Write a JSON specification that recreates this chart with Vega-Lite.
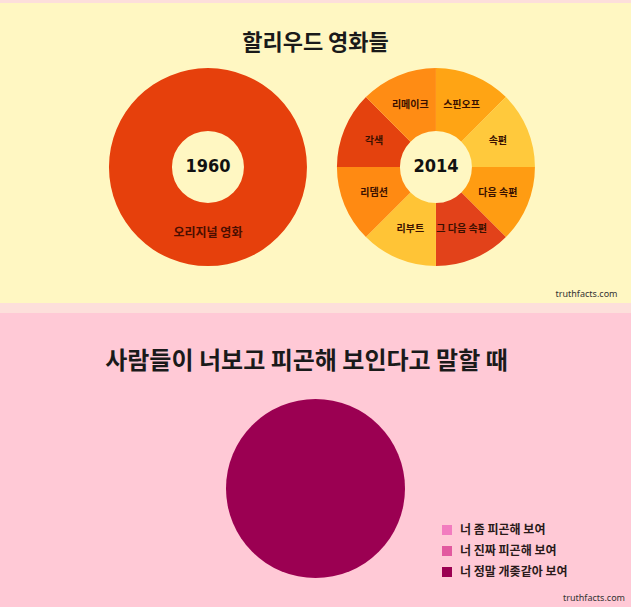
{
  "$schema": "https://vega.github.io/schema/vega-lite/v6.json",
  "padding": {"top": 3, "left": 0, "right": 0, "bottom": 0},
  "background": "#FDDFDB",
  "spacing": 10,
  "title": {
    "text": "truthfacts.com",
    "orient": "bottom",
    "anchor": "end",
    "frame": "group",
    "offset": -13,
    "dx": -6,
    "font": "Noto Sans",
    "fontSize": 9,
    "fontWeight": "normal",
    "color": "#333333"
  },
  "vconcat": [
    {
      "width": 631,
      "height": 300,
      "view": {"fill": "#FFF7C2", "stroke": null},
      "title": {"text": "할리우드 영화들", "offset": -52, "fontSize": 22},
      "data": {
        "values": [
          {"year": "1960", "segment": "오리지널 영화", "k": 1, "n": 1},
          {"year": "2014", "segment": "스핀오프", "k": 1, "n": 1},
          {"year": "2014", "segment": "속편", "k": 2, "n": 1},
          {"year": "2014", "segment": "다음 속편", "k": 3, "n": 1},
          {"year": "2014", "segment": "그 다음 속편", "k": 4, "n": 1},
          {"year": "2014", "segment": "리부트", "k": 5, "n": 1},
          {"year": "2014", "segment": "리뎀션", "k": 6, "n": 1},
          {"year": "2014", "segment": "각색", "k": 7, "n": 1},
          {"year": "2014", "segment": "리메이크", "k": 8, "n": 1}
        ]
      },
      "encoding": {
        "x": {
          "field": "year",
          "type": "nominal",
          "scale": {"type": "point", "padding": 0.884, "align": 0.516},
          "axis": {
            "labels": false,
            "ticks": false,
            "domain": false,
            "grid": false,
            "title": "truthfacts.com",
            "titleFont": "Noto Sans",
            "titleFontSize": 9,
            "titleFontWeight": "normal",
            "titleColor": "#333333",
            "titleAlign": "right",
            "titleX": 617,
            "titleY": -14
          }
        },
        "y": {
          "datum": "c",
          "type": "nominal",
          "scale": {"type": "point", "align": 0.547},
          "axis": null
        }
      },
      "layer": [
        {
          "transform": [{"filter": "datum.year === '1960'"}],
          "encoding": {
            "theta": {"field": "n", "type": "quantitative", "stack": true},
            "order": {"field": "k", "type": "quantitative"}
          },
          "layer": [
            {
              "mark": {"type": "arc", "innerRadius": 36, "outerRadius": 99},
              "encoding": {
                "color": {
                  "field": "segment",
                  "type": "nominal",
                  "scale": {
                    "domain": ["오리지널 영화", "스핀오프", "속편", "다음 속편", "그 다음 속편", "리부트", "리뎀션", "각색", "리메이크"],
                    "range": ["#E6400C", "#FFA414", "#FFC93C", "#FF9C12", "#E2421A", "#FFC436", "#FF8A12", "#E4420E", "#FF8C14"]
                  },
                  "legend": null
                }
              }
            },
            {
              "mark": {"type": "text", "radius": 66, "font": "Noto Sans CJK KR", "fontSize": 12, "fontWeight": "bold", "fill": "#4A0E00"},
              "encoding": {
                "detail": {"field": "segment"},
                "text": {"field": "segment"}
              }
            }
          ]
        },
        {
          "transform": [{"filter": "datum.year === '2014'"}],
          "encoding": {
            "theta": {"field": "n", "type": "quantitative", "stack": true},
            "order": {"field": "k", "type": "quantitative"}
          },
          "layer": [
            {
              "mark": {"type": "arc", "innerRadius": 36, "outerRadius": 99},
              "encoding": {
                "color": {"field": "segment", "type": "nominal", "legend": null}
              }
            },
            {
              "mark": {"type": "text", "radius": 67, "font": "Noto Sans CJK KR", "fontSize": 10, "fontWeight": "bold", "fill": "#3A1000"},
              "encoding": {
                "detail": {"field": "segment"},
                "text": {"field": "segment"}
              }
            }
          ]
        },
        {
          "transform": [{"filter": "datum.k === 1"}],
          "mark": {"type": "text", "font": "DejaVu Sans Condensed, Liberation Sans, sans-serif", "fontSize": 18, "fontWeight": "bold", "fill": "#111111"},
          "encoding": {"text": {"field": "year"}}
        }
      ],
      "resolve": {"scale": {"theta": "independent"}}
    },
    {
      "width": 631,
      "height": 294,
      "view": {"fill": "#FFC9D6", "stroke": null},
      "title": {"text": "사람들이 너보고 피곤해 보인다고 말할 때", "offset": -61, "dx": -9, "fontSize": 24},
      "data": {
        "values": [
          {"answer": "너 좀 피곤해 보여", "k": 1, "n": 0},
          {"answer": "너 진짜 피곤해 보여", "k": 2, "n": 0},
          {"answer": "너 정말 개좆같아 보여", "k": 3, "n": 1}
        ]
      },
      "mark": {"type": "arc", "outerRadius": 89.5},
      "encoding": {
        "theta": {"field": "n", "type": "quantitative", "stack": true},
        "order": {"field": "k", "type": "quantitative"},
        "y": {
          "datum": "c",
          "type": "nominal",
          "scale": {"type": "point", "align": 0.597},
          "axis": null
        },
        "color": {
          "field": "answer",
          "type": "nominal",
          "scale": {
            "domain": ["너 좀 피곤해 보여", "너 진짜 피곤해 보여", "너 정말 개좆같아 보여"],
            "range": ["#F27CBF", "#E2599F", "#9B0052"]
          },
          "legend": {
            "title": null,
            "orient": "none",
            "legendX": 441,
            "legendY": 211,
            "padding": 0,
            "symbolType": "square",
            "symbolSize": 100,
            "symbolStrokeWidth": 0,
            "symbolOpacity": 1,
            "labelFont": "Noto Sans CJK KR",
            "labelFontSize": 12,
            "labelFontWeight": "bold",
            "labelColor": "#2A1A1A",
            "labelOffset": 7,
            "rowPadding": 9
          }
        }
      }
    }
  ],
  "resolve": {
    "scale": {"color": "independent", "theta": "independent"},
    "legend": {"color": "independent"}
  },
  "config": {
    "font": "Noto Sans CJK KR",
    "title": {"font": "Noto Sans CJK KR", "fontWeight": "bold", "color": "#1A1A1A", "anchor": "middle", "frame": "group"},
    "view": {"stroke": null}
  }
}
